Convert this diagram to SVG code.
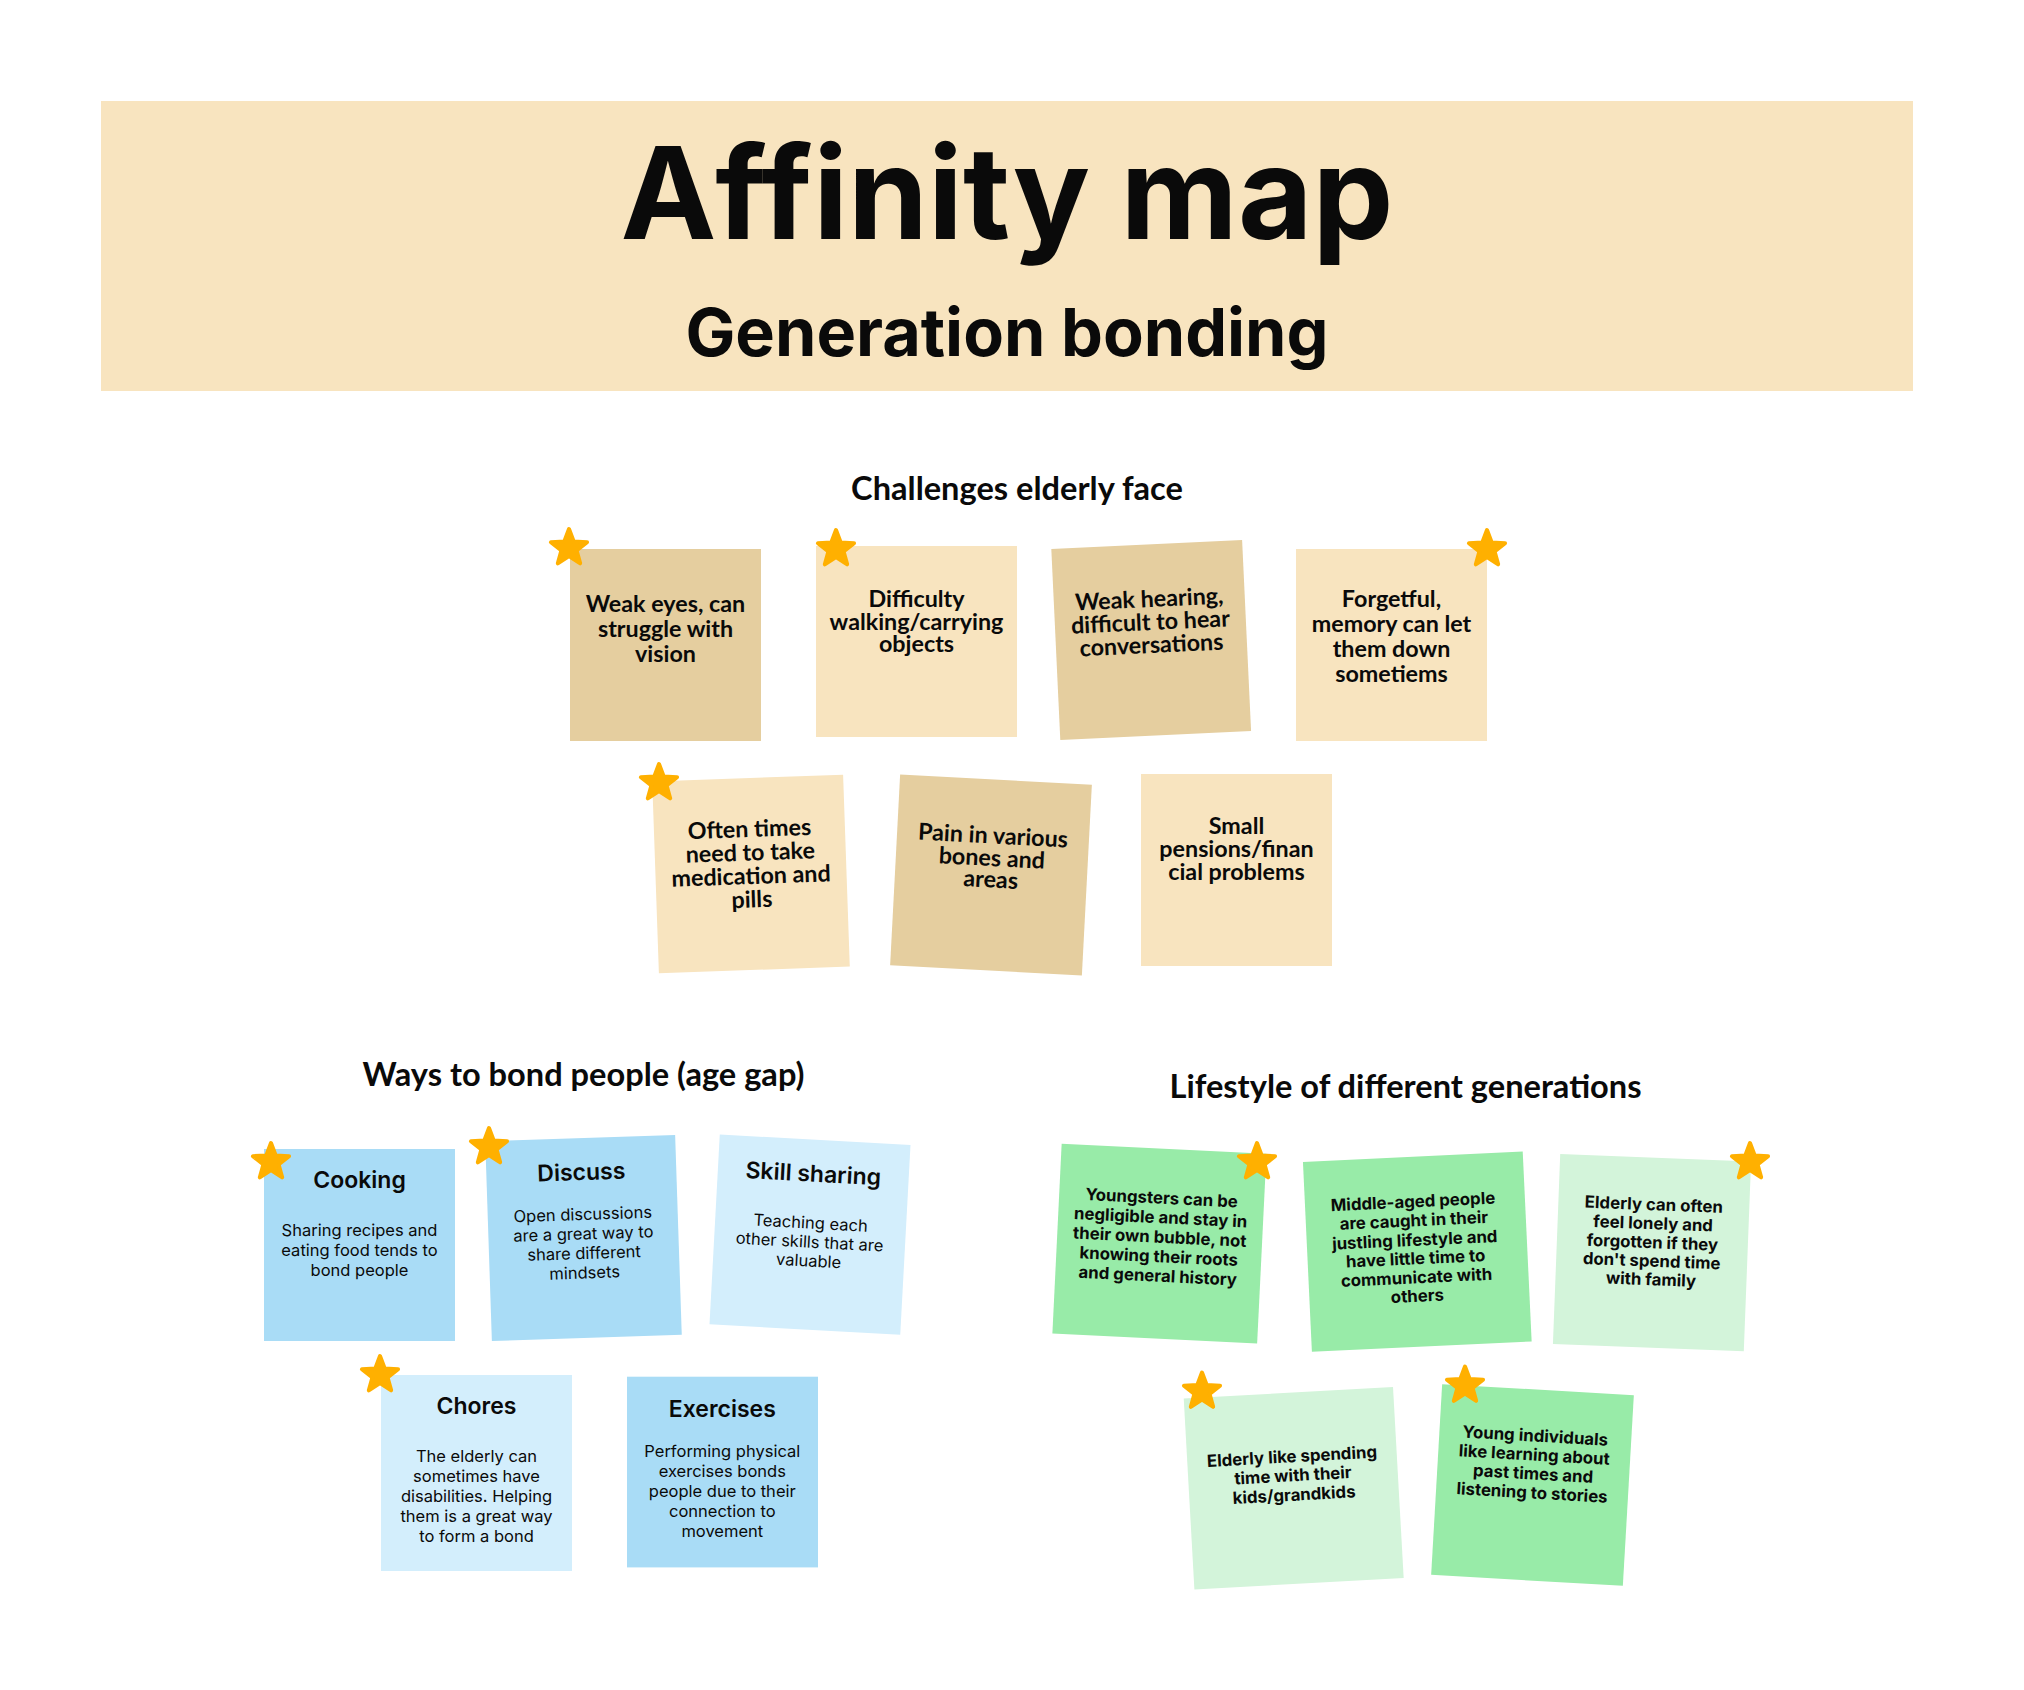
<svg xmlns="http://www.w3.org/2000/svg" xmlns:xlink="http://www.w3.org/1999/xlink" width="2024" height="1690" viewBox="0 0 2024 1690">
  <style>
    .band { fill: #F8E4BF; }
    .tan { fill: #E5CE9F; }
    .cream { fill: #F8E4BF; }
    .blue { fill: #A9DCF6; }
    .sky { fill: #D3EEFC; }
    .green { fill: #98EBA8; }
    .mint { fill: #D3F4DA; }
    .star { fill: #FFB000; stroke: #FFB000; stroke-width: 4; stroke-linejoin: round; }
    text { fill: #0A0A0A; text-anchor: middle; }
    .title { font-family: Inter, "Liberation Sans", sans-serif; font-weight: 700; font-size: 128.5px; }
    .subtitle { font-family: Inter, "Liberation Sans", sans-serif; font-weight: 700; font-size: 66.5px; }
    .heading { font-family: Lato, "Open Sans", sans-serif; font-weight: 700; font-size: 32.6px; }
    .note { font-family: Lato, "Open Sans", sans-serif; font-weight: 700; font-size: 23.3px; }
    .ntitle { font-family: Inter, "Liberation Sans", sans-serif; font-weight: 600; font-size: 23px; }
    .nbody { font-family: Inter, "Liberation Sans", sans-serif; font-weight: 400; font-size: 16.5px; }
    .gnote { font-family: Inter, "Liberation Sans", sans-serif; font-weight: 700; font-size: 16.8px; }
  </style>
  <defs>
    <path id="star" class="star" d="M0,-19 L4.7,-6.47 L18.07,-5.87 L7.61,2.47 L11.17,15.37 L0,8 L-11.17,15.37 L-7.61,2.47 L-18.07,-5.87 L-4.7,-6.47 Z"/>
  </defs>

  <rect width="2024" height="1690" fill="#FFFFFF"/>

  <!-- Header band -->
  <g id="header">
    <rect class="band" x="101" y="101" width="1812" height="290"/>
    <text class="title" x="1007" y="239">Affinity map</text>
    <text class="subtitle" x="1007" y="356">Generation bonding</text>
  </g>

  <!-- Section headings -->
  <g id="headings">
    <text class="heading" x="1017" y="500">Challenges elderly face</text>
    <text class="heading" x="583.5" y="1086">Ways to bond people (age gap)</text>
    <text class="heading" x="1405.5" y="1098">Lifestyle of different generations</text>
  </g>

  <!-- Challenges elderly face -->
  <g id="n-weak-eyes">
    <rect class="tan" x="570" y="549" width="191" height="192"/>
    <text class="note" x="665.5" y="612">Weak eyes, can</text>
    <text class="note" x="665.5" y="637">struggle with</text>
    <text class="note" x="665.5" y="662">vision</text>
    <use href="#star" x="569" y="548"/>
  </g>
  <g id="n-difficulty">
    <rect class="cream" x="816" y="546" width="201" height="191"/>
    <text class="note" x="916.5" y="607">Difficulty</text>
    <text class="note" x="916.5" y="629.5">walking/carrying</text>
    <text class="note" x="916.5" y="652">objects</text>
    <use href="#star" x="836" y="549"/>
  </g>
  <g id="n-weak-hearing" transform="translate(1151.2 640) rotate(-2.7)">
    <rect class="tan" x="-95.5" y="-95.5" width="191" height="191"/>
    <text class="note" x="0" y="-33">Weak hearing,</text>
    <text class="note" x="0" y="-10">difficult to hear</text>
    <text class="note" x="0" y="13">conversations</text>
  </g>
  <g id="n-forgetful">
    <rect class="cream" x="1296" y="549" width="191" height="192"/>
    <text class="note" x="1391.5" y="607">Forgetful,</text>
    <text class="note" x="1391.5" y="632">memory can let</text>
    <text class="note" x="1391.5" y="657">them down</text>
    <text class="note" x="1391.5" y="681.5">sometiems</text>
    <use href="#star" x="1487" y="549"/>
  </g>
  <g id="n-often-times">
    <g transform="translate(751 874) rotate(-2)">
      <rect class="cream" x="-95.5" y="-96" width="191" height="192"/>
      <text class="note" x="0" y="-37">Often times</text>
      <text class="note" x="0" y="-13.5">need to take</text>
      <text class="note" x="0" y="10">medication and</text>
      <text class="note" x="0" y="33.5">pills</text>
    </g>
    <use href="#star" x="659" y="783"/>
  </g>
  <g id="n-pain" transform="translate(991 875) rotate(3)">
    <rect class="tan" x="-96" y="-95.5" width="192" height="191"/>
    <text class="note" x="0" y="-31.5">Pain in various</text>
    <text class="note" x="0" y="-9">bones and</text>
    <text class="note" x="0" y="12.5">areas</text>
  </g>
  <g id="n-small-pensions">
    <rect class="cream" x="1141" y="774" width="191" height="192"/>
    <text class="note" x="1236.5" y="834">Small</text>
    <text class="note" x="1236.5" y="857">pensions/finan</text>
    <text class="note" x="1236.5" y="880">cial problems</text>
  </g>

  <!-- Ways to bond people (age gap) -->
  <g id="n-cooking">
    <rect class="blue" x="264" y="1149" width="191" height="192"/>
    <text class="ntitle" x="359.5" y="1188">Cooking</text>
    <text class="nbody" x="359.5" y="1236">Sharing recipes and</text>
    <text class="nbody" x="359.5" y="1256">eating food tends to</text>
    <text class="nbody" x="359.5" y="1276">bond people</text>
    <use href="#star" x="271" y="1162"/>
  </g>
  <g id="n-discuss">
    <g transform="translate(583.5 1238) rotate(-1.9)">
      <rect class="blue" x="-95" y="-100" width="190" height="200"/>
      <text class="ntitle" x="0" y="-58">Discuss</text>
      <text class="nbody" x="0" y="-18">Open discussions</text>
      <text class="nbody" x="0" y="1.5">are a great way to</text>
      <text class="nbody" x="0" y="21">share different</text>
      <text class="nbody" x="0" y="40.5">mindsets</text>
    </g>
    <use href="#star" x="489" y="1147"/>
  </g>
  <g id="n-skill-sharing" transform="translate(810 1234.6) rotate(3.1)">
    <rect class="sky" x="-95.5" y="-95" width="191" height="190"/>
    <text class="ntitle" x="0" y="-53">Skill sharing</text>
    <text class="nbody" x="0" y="-6">Teaching each</text>
    <text class="nbody" x="0" y="13">other skills that are</text>
    <text class="nbody" x="0" y="32">valuable</text>
  </g>
  <g id="n-chores">
    <rect class="sky" x="381" y="1375" width="191" height="196"/>
    <text class="ntitle" x="476.5" y="1414.3">Chores</text>
    <text class="nbody" x="476.5" y="1461.7">The elderly can</text>
    <text class="nbody" x="476.5" y="1481.7">sometimes have</text>
    <text class="nbody" x="476.5" y="1501.7">disabilities. Helping</text>
    <text class="nbody" x="476.5" y="1521.7">them is a great way</text>
    <text class="nbody" x="476.5" y="1541.7">to form a bond</text>
    <use href="#star" x="380" y="1375"/>
  </g>
  <g id="n-exercises">
    <rect class="blue" x="627" y="1376.7" width="191" height="190.7"/>
    <text class="ntitle" x="722.3" y="1416.7">Exercises</text>
    <text class="nbody" x="722.3" y="1456.7">Performing physical</text>
    <text class="nbody" x="722.3" y="1476.7">exercises bonds</text>
    <text class="nbody" x="722.3" y="1496.7">people due to their</text>
    <text class="nbody" x="722.3" y="1516.7">connection to</text>
    <text class="nbody" x="722.3" y="1536.7">movement</text>
  </g>

  <!-- Lifestyle of different generations -->
  <g id="n-youngsters">
    <g transform="translate(1159.4 1243.7) rotate(2.8)">
      <rect class="green" x="-102.5" y="-95" width="205" height="190"/>
      <text class="gnote" x="0" y="-40">Youngsters can be</text>
      <text class="gnote" x="0" y="-20.5">negligible and stay in</text>
      <text class="gnote" x="0" y="-1">their own bubble, not</text>
      <text class="gnote" x="0" y="18.5">knowing their roots</text>
      <text class="gnote" x="0" y="38">and general history</text>
    </g>
    <use href="#star" x="1257" y="1162"/>
  </g>
  <g id="n-middle-aged" transform="translate(1417.3 1251.7) rotate(-2.7)">
    <rect class="green" x="-110" y="-95" width="220" height="190"/>
    <text class="gnote" x="-2" y="-44.5">Middle-aged people</text>
    <text class="gnote" x="-2" y="-25.5">are caught in their</text>
    <text class="gnote" x="-2" y="-6">justling lifestyle and</text>
    <text class="gnote" x="-2" y="12.5">have little time to</text>
    <text class="gnote" x="-2" y="31.5">communicate with</text>
    <text class="gnote" x="-2" y="50">others</text>
  </g>
  <g id="n-elderly-lonely">
    <g transform="translate(1652 1252.7) rotate(2.2)">
      <rect class="mint" x="-95.5" y="-95" width="191" height="190"/>
      <text class="gnote" x="0" y="-42.5">Elderly can often</text>
      <text class="gnote" x="0" y="-23.5">feel lonely and</text>
      <text class="gnote" x="0" y="-4.5">forgotten if they</text>
      <text class="gnote" x="0" y="14">don't spend time</text>
      <text class="gnote" x="0" y="32.5">with family</text>
    </g>
    <use href="#star" x="1750" y="1162"/>
  </g>
  <g id="n-elderly-family">
    <g transform="translate(1293.7 1488.2) rotate(-3.2)">
      <rect class="mint" x="-104.8" y="-95.6" width="209.6" height="191.3"/>
      <text class="gnote" x="0" y="-26">Elderly like spending</text>
      <text class="gnote" x="0" y="-7">time with their</text>
      <text class="gnote" x="0" y="12.5">kids/grandkids</text>
    </g>
    <use href="#star" x="1202" y="1391.5"/>
  </g>
  <g id="n-young-stories">
    <g transform="translate(1532.5 1485) rotate(3.3)">
      <rect class="green" x="-96" y="-95.5" width="192" height="191"/>
      <text class="gnote" x="0" y="-43.5">Young individuals</text>
      <text class="gnote" x="0" y="-24.5">like learning about</text>
      <text class="gnote" x="0" y="-5.5">past times and</text>
      <text class="gnote" x="0" y="13.5">listening to stories</text>
    </g>
    <use href="#star" x="1465" y="1385.5"/>
  </g>
</svg>
